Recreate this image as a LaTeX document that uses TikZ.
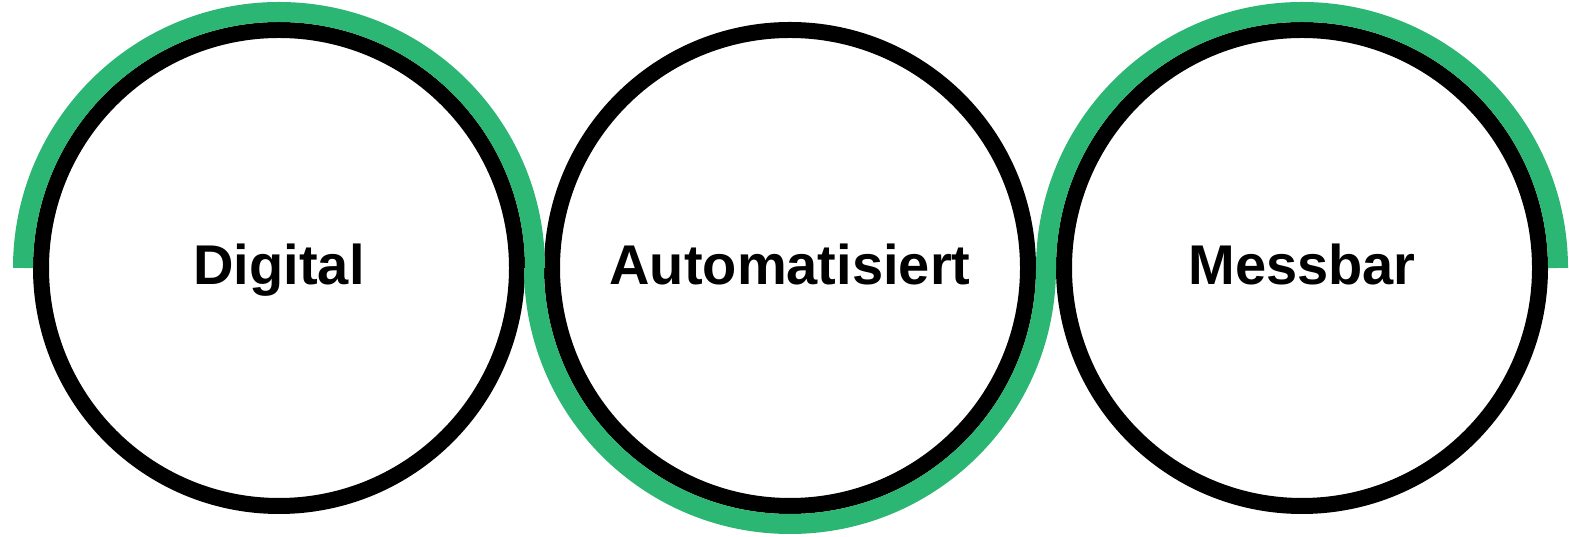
\documentclass[tikz,border=0pt]{standalone}
\usepackage{fontspec}
\setmainfont{Liberation Sans}
\definecolor{ringgreen}{RGB}{44,182,115}
\begin{document}
\begin{tikzpicture}[x=1pt, y=1pt,
    ring/.style={circle, draw=black, line width=16pt, minimum size=476pt, inner sep=0pt,
        font=\fontsize{56}{60}\selectfont\bfseries, text height=34pt, text depth=0pt},
    halo/.style={draw=ringgreen, line width=20pt}]
    \useasboundingbox (0,0) rectangle (1569,537);
    \node[ring] (digital) at (279,269) {Digital};
    \node[ring] (auto) at (790,269) {Automatisiert};
    \node[ring] (mess) at (1302,269) {Messbar};
    \draw[halo] (digital.center) ++(-256,0) arc[start angle=180, end angle=0, radius=256];
    \draw[halo] (auto.center) ++(-256,0) arc[start angle=180, end angle=360, radius=256];
    \draw[halo] (mess.center) ++(-256,0) arc[start angle=180, end angle=0, radius=256];
\end{tikzpicture}
\end{document}
